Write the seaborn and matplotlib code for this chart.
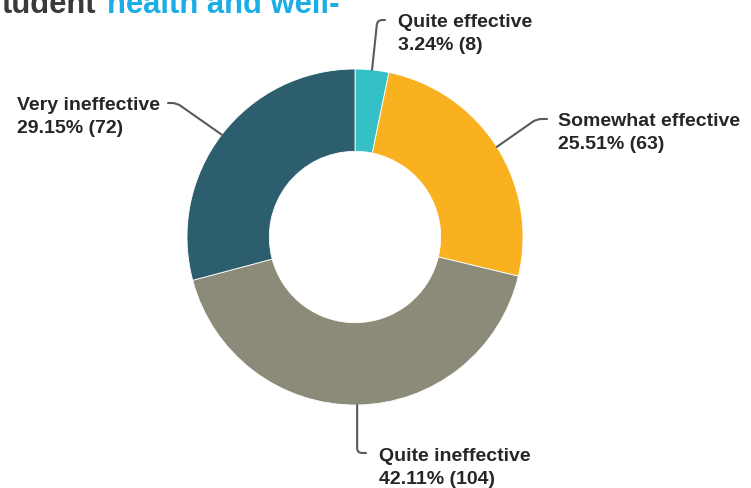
import matplotlib
matplotlib.use("Agg")
import matplotlib.pyplot as plt
import numpy as np
import seaborn as sns

# Survey responses, clockwise from 12 o'clock
categories = ["Quite effective", "Somewhat effective", "Quite ineffective", "Very ineffective"]
counts = [8, 63, 104, 72]
colors = ["#35C0C8", "#F9B11F", "#8C8B7A", "#2D5E6E"]

title_dark = "tudent"
title_accent = "health and well-"

sns.set_theme(style="white")
plt.rcParams["font.family"] = ["Liberation Sans", "DejaVu Sans"]

W, H = 751, 489
fig = plt.figure(figsize=(W / 100, H / 100), dpi=100)
ax = fig.add_axes([0, 0, 1, 1])

palette = sns.color_palette(colors)
cx, cy, R = 355, H - 238, 168
ring = 0.49

wedges, _ = ax.pie(
    counts,
    colors=palette,
    startangle=90,
    counterclock=False,
    center=(cx, cy),
    radius=R,
    wedgeprops=dict(width=R * ring, edgecolor="white", linewidth=0.6),
    frame=True,
)
ax.set_xlim(0, W)
ax.set_ylim(0, H)
ax.set_aspect("equal")
ax.axis("off")

total = sum(counts)
txt_color = "#262626"
line_color = "#5a5a5a"
fs = 14

# label layout: (text x, first baseline from top, leader end x, leader end y from top, angleB)
layout = {
    "Quite effective": (398, 27, 385, 21, 84),
    "Somewhat effective": (558, 126, 547, 120, 35),
    "Quite ineffective": (379, 461, 366, 454, 90),
    "Very ineffective": (17, 110, 168, 104, 145),
}

for w, cat, n in zip(wedges, categories, counts):
    mid = np.deg2rad((w.theta1 + w.theta2) / 2)
    bx, by = cx + R * np.cos(mid), cy + R * np.sin(mid)
    tx, tb, ex, ey, angB = layout[cat]
    ax.annotate(
        "",
        xy=(bx, by),
        xytext=(ex, H - ey),
        arrowprops=dict(
            arrowstyle="-",
            color=line_color,
            lw=1.5,
            shrinkA=0,
            shrinkB=0,
            connectionstyle=f"angle,angleA=0,angleB={angB},rad=5",
        ),
    )
    pct = 100 * n / total
    ax.text(tx, H - tb, cat, fontsize=fs, fontweight="bold", color=txt_color,
            ha="left", va="baseline")
    ax.text(tx, H - tb - 23, f"{pct:.2f}% ({n})", fontsize=fs, fontweight="bold",
            color=txt_color, ha="left", va="baseline")

# Title line, running off the top edge
ax.text(2, H - 13, title_dark, fontsize=22.3, fontweight="bold", color="#3a3a3a",
        ha="left", va="baseline", clip_on=False)
ax.text(107, H - 13, title_accent, fontsize=22.3, fontweight="bold", color="#1BAEE6",
        ha="left", va="baseline", clip_on=False)

fig.savefig("out.png", dpi=100, facecolor="white")
